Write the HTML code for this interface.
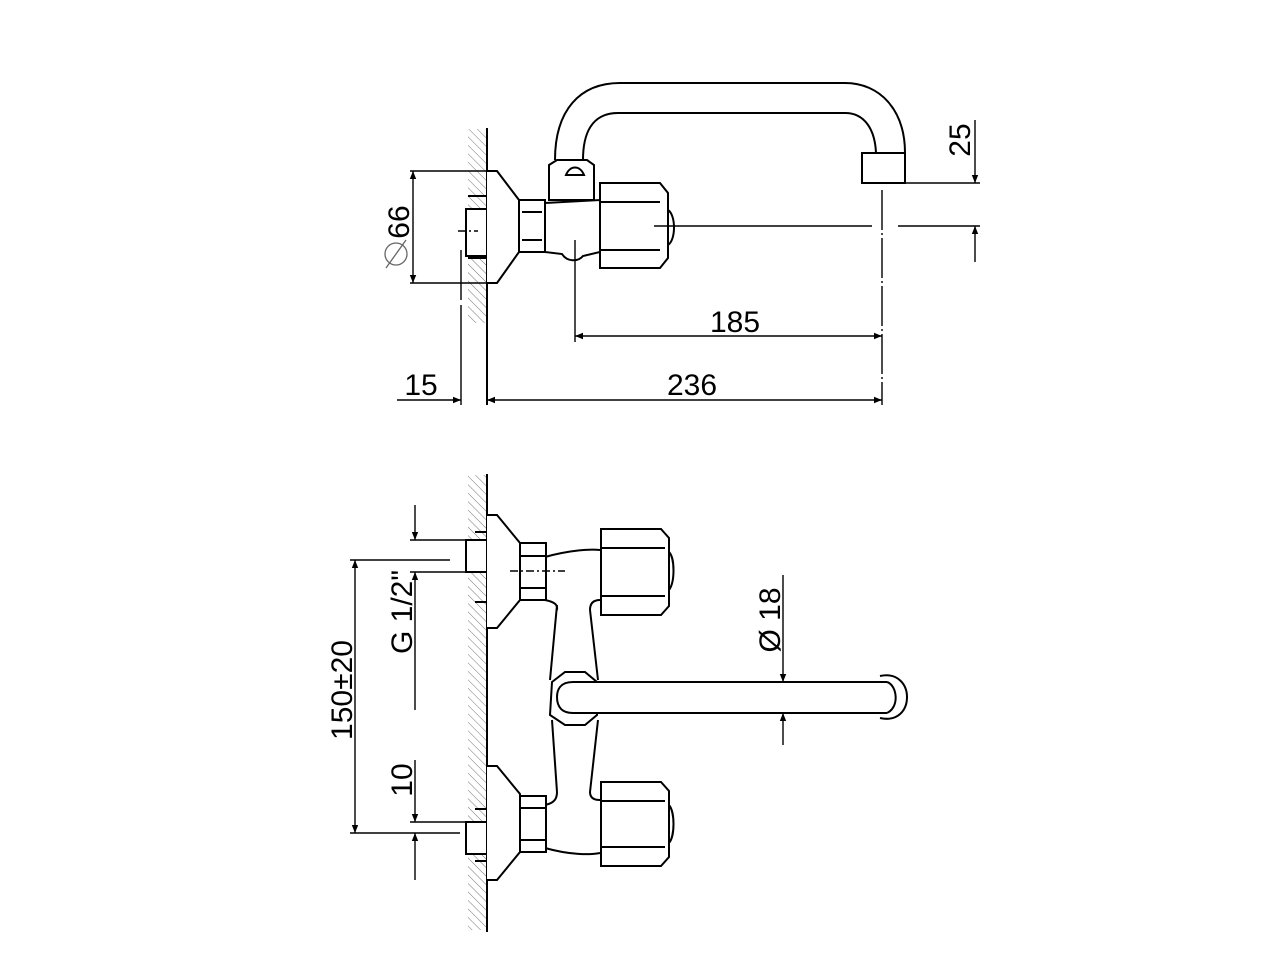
<!DOCTYPE html>
<html><head><style>body{margin:0;background:#fff}svg{display:block}text{font-family:"Liberation Sans",Arial,sans-serif;font-size:30px;fill:#000}</style></head><body>
<svg width="1280" height="960" viewBox="0 0 1280 960" xmlns="http://www.w3.org/2000/svg">
<defs>
<pattern id="h" width="6" height="6" patternUnits="userSpaceOnUse" patternTransform="rotate(-45)"><line x1="0" y1="0" x2="0" y2="6" stroke="#777" stroke-width="1"/></pattern>
<marker id="a" viewBox="0 0 10 10" refX="10" refY="5" markerWidth="18" markerHeight="8" orient="auto-start-reverse" markerUnits="userSpaceOnUse"><path d="M0,1 L10,5 L0,9z" fill="#000"/></marker>
</defs>
<g fill="none" stroke="#000" stroke-width="2">
<!-- TOP VIEW -->
<rect x="468" y="129" width="19" height="194" fill="url(#h)" stroke="none"/>
<line x1="487" y1="128" x2="487" y2="405"/>
<rect x="466" y="209" width="21" height="47" fill="#fff"/>
<line x1="468" y1="196" x2="487" y2="196"/><line x1="468" y1="258" x2="487" y2="258"/>
<path d="M487,171 L497,171 L519,200 L519,252 L497,283 L487,283" fill="#fff"/>
<rect x="519" y="200" width="26" height="52" fill="#fff"/>
<line x1="522" y1="212" x2="542" y2="212"/><line x1="522" y1="240" x2="542" y2="240"/>
<path d="M555,160 C555,110 580,83 620,83 L845,83 C880,83 905,110 905,153" />
<path d="M583,160 C583,125 598,113 618,113 L845,113 C865,113 875,130 876,153"/>
<path d="M549,165 L557,160 L587,160 L594,165 L594,200 L549,200 Z" fill="#fff"/>
<path d="M566,175 C570,165 580,165 584,175 Z"/>
<path d="M545,203 L600,200 L600,252 L583,256 C578,262 567,262 562,254 L545,252 Z" fill="#fff"/>
<path d="M600,183 L660,183 L668,193 L668,258 L660,268 L600,268 Z" fill="#fff"/>
<line x1="600" y1="202" x2="660" y2="202"/><line x1="600" y1="250" x2="660" y2="250"/>
<path d="M668,210 C676,215 676,240 668,245"/>
<rect x="862" y="153" width="43" height="30" fill="#fff"/>
</g>
<g stroke="#000" stroke-width="1.4" fill="none">
<line x1="458" y1="231" x2="478" y2="231" stroke-dasharray="8,3,2,3"/>
<line x1="654" y1="226" x2="872" y2="226"/><line x1="898" y1="226" x2="980" y2="226"/>
<line x1="882" y1="190" x2="882" y2="405" stroke-dasharray="40,3,2,3"/>
<line x1="890" y1="183" x2="980" y2="183"/>
<line x1="975" y1="120" x2="975" y2="183" marker-end="url(#a)"/>
<line x1="975" y1="262" x2="975" y2="226" marker-end="url(#a)"/>
<line x1="410" y1="171" x2="487" y2="171"/><line x1="410" y1="283" x2="487" y2="283"/>
<line x1="413" y1="171" x2="413" y2="283" marker-start="url(#a)" marker-end="url(#a)"/>
<line x1="461" y1="250" x2="461" y2="300"/><line x1="461" y1="305" x2="461" y2="405"/>
<line x1="575" y1="240" x2="575" y2="342"/>
<line x1="575" y1="336" x2="882" y2="336" marker-start="url(#a)" marker-end="url(#a)"/>
<line x1="487" y1="400" x2="882" y2="400" marker-start="url(#a)" marker-end="url(#a)"/>
<line x1="397" y1="400" x2="461" y2="400" marker-end="url(#a)"/>
</g>
<text x="735" y="332" text-anchor="middle">185</text>
<text x="692" y="395" text-anchor="middle">236</text>
<text x="421" y="395" text-anchor="middle">15</text>
<text transform="translate(970,140) rotate(-90)" text-anchor="middle">25</text>
<text transform="translate(409,222) rotate(-90)" text-anchor="middle">66</text>
<circle cx="396" cy="254" r="11" fill="none" stroke="#666" stroke-width="1.3"/><line x1="386" y1="268" x2="406" y2="240" stroke="#666" stroke-width="1.3"/>

<!-- BOTTOM VIEW -->
<g fill="none" stroke="#000" stroke-width="2">
<rect x="468" y="475" width="19" height="455" fill="url(#h)" stroke="none"/>
<line x1="487" y1="474" x2="487" y2="932"/>
<path d="M557,605 L550,680 M552,720 L557,792 M590,610 L598,680 M598,720 L590,792"/>
<path d="M545,557 C570,550 590,549 600,550 M545,600 C555,602 558,605 557,610 M600,600 C592,600 590,605 590,610"/>
<path d="M545,805 C555,803 557,798 557,792 M545,848 C570,855 590,855 600,853 M600,800 C592,800 590,796 590,792"/>
<rect x="466" y="540" width="21" height="32" fill="#fff"/>
<rect x="466" y="822" width="21" height="32" fill="#fff"/>
<line x1="475" y1="532" x2="487" y2="532"/><line x1="475" y1="602" x2="487" y2="602"/>
<line x1="475" y1="809" x2="487" y2="809"/><line x1="475" y1="861" x2="487" y2="861"/>
<path d="M487,515 L497,515 L520,543 L520,600 L497,628 L487,628" fill="#fff"/>
<path d="M487,766 L497,766 L520,794 L520,852 L497,880 L487,880" fill="#fff"/>
<rect x="520" y="543" width="26" height="57" fill="#fff"/>
<line x1="520" y1="556" x2="546" y2="556"/><line x1="520" y1="588" x2="546" y2="588"/>
<rect x="520" y="796" width="26" height="56" fill="#fff"/>
<line x1="520" y1="808" x2="546" y2="808"/><line x1="520" y1="840" x2="546" y2="840"/>
<path d="M601,529 L661,529 L669,538 L669,606 L661,615 L601,615 Z" fill="#fff"/>
<line x1="601" y1="548" x2="665" y2="548"/><line x1="601" y1="596" x2="665" y2="596"/>
<path d="M669,552 C675,558 675,582 669,590"/>
<path d="M601,782 L661,782 L669,791 L669,857 L661,866 L601,866 Z" fill="#fff"/>
<line x1="601" y1="801" x2="665" y2="801"/><line x1="601" y1="847" x2="665" y2="847"/>
<path d="M669,805 C675,812 675,836 669,843"/>
<path d="M552,682 L565,672 L585,672 L597,682 L597,715 L585,725 L565,725 L550,715 Z" fill="#fff"/>
<path d="M887,682 L573,682 C560,682 557,690 557,697 C557,707 562,713 573,713 L887,713" fill="#fff"/>
<path d="M880,676 C898,672 907,685 907,697 C907,710 898,722 880,718 M887,682 C897,685 900,707 887,713"/>
</g>
<g stroke="#000" stroke-width="1.4" fill="none">
<line x1="415" y1="505" x2="415" y2="540" marker-end="url(#a)"/>
<line x1="415" y1="710" x2="415" y2="572" marker-end="url(#a)"/>
<line x1="410" y1="540" x2="466" y2="540"/><line x1="410" y1="572" x2="466" y2="572"/>
<line x1="350" y1="560" x2="450" y2="560"/><line x1="350" y1="833" x2="460" y2="833"/>
<line x1="355" y1="560" x2="355" y2="833" marker-start="url(#a)" marker-end="url(#a)"/>
<line x1="415" y1="760" x2="415" y2="822" marker-end="url(#a)"/>
<line x1="415" y1="880" x2="415" y2="833" marker-end="url(#a)"/>
<line x1="410" y1="822" x2="466" y2="822"/>
<line x1="783" y1="575" x2="783" y2="682" marker-end="url(#a)"/>
<line x1="783" y1="745" x2="783" y2="713" marker-end="url(#a)"/>
<line x1="510" y1="571" x2="565" y2="571" stroke-dasharray="8,3,2,3"/>
</g>
<text transform="translate(352,690) rotate(-90)" text-anchor="middle">150±20</text>
<text transform="translate(412,612) rotate(-90)" text-anchor="middle">G 1/2"</text>
<text transform="translate(412,780) rotate(-90)" text-anchor="middle">10</text>
<text transform="translate(780,620) rotate(-90)" text-anchor="middle">Ø 18</text>
</svg>
</body></html>
